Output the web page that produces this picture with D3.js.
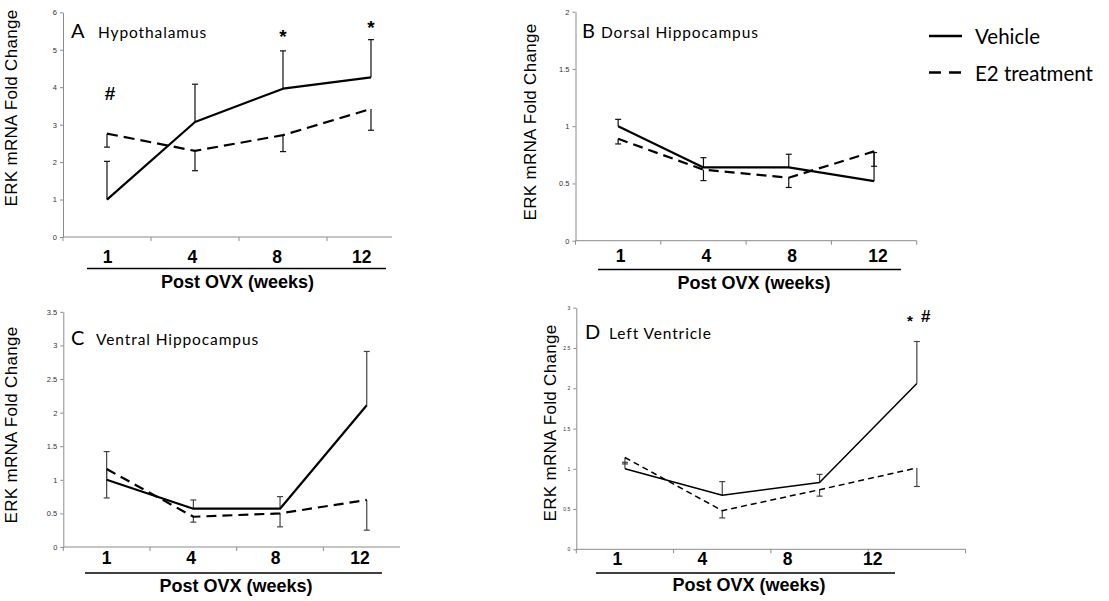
<!DOCTYPE html>
<html><head><meta charset="utf-8">
<script src="https://cdn.jsdelivr.net/npm/d3@7"></script>
<style>body{margin:0;background:#fff}svg{display:block}</style>
</head><body>
<script>
// ---- data ----
const weeks = ["1", "4", "8", "12"];
const seriesNames = ["Vehicle", "E2 treatment"];
const yAxisTitle = "ERK mRNA Fold Change";
const xAxisTitle = "Post OVX (weeks)";

const hypoVehicle = [1.0, 3.07, 3.96, 4.26];
const hypoVehicleErr = [1.02, 1.01, 1.01, 1.01];
const hypoE2 = [2.76, 2.30, 2.72, 3.42];
const hypoE2Err = [0.36, 0.53, 0.44, 0.57];

const dorsalVehicle = [1.0, 0.64, 0.64, 0.52];
const dorsalVehicleErr = [0.06, 0.085, 0.115, 0.25];
const dorsalE2 = [0.89, 0.62, 0.55, 0.78];
const dorsalE2Err = [0.045, 0.095, 0.085, 0.13];

const ventralVehicle = [1.0, 0.57, 0.57, 2.11];
const ventralVehicleErr = [0.42, 0.13, 0.18, 0.80];
const ventralE2 = [1.16, 0.45, 0.50, 0.70];
const ventralE2Err = [0.43, 0.08, 0.20, 0.45];

const lvVehicle = [1.0, 0.67, 0.83, 2.06];
const lvVehicleErr = [0.08, 0.17, 0.10, 0.52];
const lvE2 = [1.14, 0.48, 0.74, 1.01];
const lvE2Err = [0.08, 0.09, 0.08, 0.23];

const hypoAnnotations = [{week: "1", value: 3.66, dx: 3, text: "#", size: 19}, {week: "8", value: 5.18, dx: 0, text: "*", size: 19}, {week: "12", value: 5.42, dx: 0, text: "*", size: 19}];
const lvAnnotations = [{week: "12", value: 2.77, dx: -7, text: "*", size: 15}, {week: "12", value: 2.82, dx: 9, text: "#", size: 17}];

// ---- layout ----
const panels = [
  {letter: "A", title: "Hypothalamus", veh: hypoVehicle, vehErr: hypoVehicleErr, e2: hypoE2, e2Err: hypoE2Err, ann: hypoAnnotations,
   ymax: 6, step: 1, left: 63, y0: 237, ytop: 12.3, band: 88, axisEnd: 392, tickFont: 7.5,
   lab: [107.7, 361.7], labY: 263, ul: [87, 386, 268.5], titleX: 237.5, titleY: 288, ylabX: 17, ylabY: 108,
   letterX: 71, letterY: 38, titleTextX: 98, lw: 2.2, dash: "11,6", errColor: "#111"},
  {letter: "B", title: "Dorsal Hippocampus", veh: dorsalVehicle, vehErr: dorsalVehicleErr, e2: dorsalE2, e2Err: dorsalE2Err, ann: [],
   ymax: 2, step: 0.5, left: 575.5, y0: 240.7, ytop: 11.7, band: 85.3, axisEnd: 916.7, tickFont: 7.5,
   lab: [620.5, 878], labY: 262, ul: [598, 901, 269.5], titleX: 754, titleY: 289, ylabX: 536, ylabY: 122,
   letterX: 582, letterY: 38, titleTextX: 601, lw: 2.2, dash: "10,6", errColor: "#111"},
  {letter: "C", title: "Ventral Hippocampus", veh: ventralVehicle, vehErr: ventralVehicleErr, e2: ventralE2, e2Err: ventralE2Err, ann: [],
   ymax: 3.5, step: 0.5, left: 63.3, y0: 547, ytop: 311.8, band: 86.7, axisEnd: 400, tickFont: 7.5,
   lab: [106.7, 360], labY: 564, ul: [85, 382, 573], titleX: 236, titleY: 592, ylabX: 17, ylabY: 425,
   letterX: 71, letterY: 345, titleTextX: 96, lw: 2.2, dash: "10,6", errColor: "#444"},
  {letter: "D", title: "Left Ventricle", veh: lvVehicle, vehErr: lvVehicleErr, e2: lvE2, e2Err: lvE2Err, ann: lvAnnotations,
   ymax: 3, step: 0.5, left: 576.3, y0: 549.3, ytop: 307.7, band: 97.3, axisEnd: 965.5, tickFont: 5,
   lab: [617.3, 872.7], labY: 564.5, ul: [596, 895, 573], titleX: 749, titleY: 591, ylabX: 556, ylabY: 423,
   letterX: 585, letterY: 339, titleTextX: 609, lw: 1.5, dash: "6,4", errColor: "#444"}
];

const svg = d3.select("body").append("svg").attr("width", 1109).attr("height", 601);
const sans = "'Liberation Sans', Arial, sans-serif";
const cal = "Lato, 'Open Sans', sans-serif";

function drawPanel(p) {
  const x = d3.scaleBand().domain(weeks).range([p.left, p.left + p.band * weeks.length]);
  const y = d3.scaleLinear().domain([0, p.ymax]).range([p.y0, p.ytop]);
  const cx = w => x(w) + x.bandwidth() / 2;
  const g = svg.append("g");

  // y axis
  const yAxis = d3.axisLeft(y)
    .tickValues(d3.range(0, p.ymax + 1e-9, p.step))
    .tickSize(3).tickSizeOuter(0).tickPadding(3)
    .tickFormat(d => String(+d.toFixed(1)));
  const ya = g.append("g").attr("transform", `translate(${p.left},0)`).call(yAxis);
  ya.select(".domain").attr("stroke", "#8c8c8c").attr("stroke-width", 1);
  ya.selectAll(".tick line").attr("stroke", "#8c8c8c");
  ya.selectAll(".tick text").attr("fill", "#333").style("font-family", sans).style("font-size", p.tickFont + "px");

  // x axis line and ticks
  g.append("line").attr("x1", p.left).attr("x2", p.axisEnd).attr("y1", y(0)).attr("y2", y(0))
    .attr("stroke", "#8c8c8c").attr("stroke-width", 1);
  const bounds = weeks.map(w => x(w)).concat([x.range()[1]]).filter(v => v <= p.axisEnd + 1);
  g.selectAll(".xt").data(bounds).join("line")
    .attr("x1", d => d).attr("x2", d => d).attr("y1", y(0)).attr("y2", y(0) + 4)
    .attr("stroke", "#8c8c8c").attr("stroke-width", 1);

  // error bars
  const cap = 3;
  function errBars(vals, errs, dir) {
    const eg = g.append("g").attr("stroke", p.errColor).attr("stroke-width", 1.2).attr("fill", "none");
    vals.forEach((v, i) => {
      const xx = cx(weeks[i]);
      const end = v + dir * errs[i];
      eg.append("line").attr("x1", xx).attr("x2", xx).attr("y1", y(v)).attr("y2", y(end));
      eg.append("line").attr("x1", xx - cap).attr("x2", xx + cap).attr("y1", y(end)).attr("y2", y(end));
    });
  }
  errBars(p.veh, p.vehErr, 1);
  errBars(p.e2, p.e2Err, -1);

  const line = d3.line().x((d, i) => cx(weeks[i])).y(d => y(d));
  g.append("path").datum(p.e2).attr("d", line).attr("fill", "none").attr("stroke", "#000")
    .attr("stroke-width", p.lw).attr("stroke-dasharray", p.dash);
  g.append("path").datum(p.veh).attr("d", line).attr("fill", "none").attr("stroke", "#000")
    .attr("stroke-width", p.lw).attr("stroke-linejoin", "round");

  // annotations
  p.ann.forEach(a => {
    g.append("text").attr("x", cx(a.week) + a.dx).attr("y", y(a.value)).attr("text-anchor", "middle")
      .style("font-family", sans).style("font-size", a.size + "px").style("font-weight", "bold")
      .text(a.text);
  });

  // category labels
  const lx = d3.scalePoint().domain(weeks).range(p.lab);
  g.selectAll(".cl").data(weeks).join("text")
    .attr("x", d => lx(d)).attr("y", p.labY).attr("text-anchor", "middle")
    .style("font-family", sans).style("font-weight", "bold").style("font-size", "17.5px").text(d => d);
  g.append("line").attr("x1", p.ul[0]).attr("x2", p.ul[1]).attr("y1", p.ul[2]).attr("y2", p.ul[2])
    .attr("stroke", "#000").attr("stroke-width", 1.4);
  g.append("text").attr("x", p.titleX).attr("y", p.titleY).attr("text-anchor", "middle")
    .style("font-family", sans).style("font-weight", "bold").style("font-size", "18px").text(xAxisTitle);

  // y title
  g.append("text").attr("transform", `translate(${p.ylabX},${p.ylabY}) rotate(-90)`).attr("text-anchor", "middle")
    .style("font-family", sans).style("font-size", "17px").style("letter-spacing", "0.3px").text(yAxisTitle);

  // panel title
  g.append("text").attr("x", p.letterX).attr("y", p.letterY)
    .style("font-family", cal).style("font-size", "20px").text(p.letter);
  g.append("text").attr("x", p.titleTextX).attr("y", p.letterY)
    .style("font-family", cal).style("font-size", "15.5px").style("letter-spacing", "0.9px").text(p.title);
}
panels.forEach(drawPanel);

// legend
const leg = svg.append("g");
[{y: 36, dash: null}, {y: 72.5, dash: "12,8"}].forEach((d, i) => {
  leg.append("line").attr("x1", 929).attr("x2", 962).attr("y1", d.y).attr("y2", d.y)
    .attr("stroke", "#000").attr("stroke-width", 2.5).attr("stroke-dasharray", d.dash);
  leg.append("text").attr("x", 975).attr("y", d.y + 8).style("font-family", cal).style("font-size", "20.5px")
    .text(seriesNames[i]);
});
</script>
</body></html>
